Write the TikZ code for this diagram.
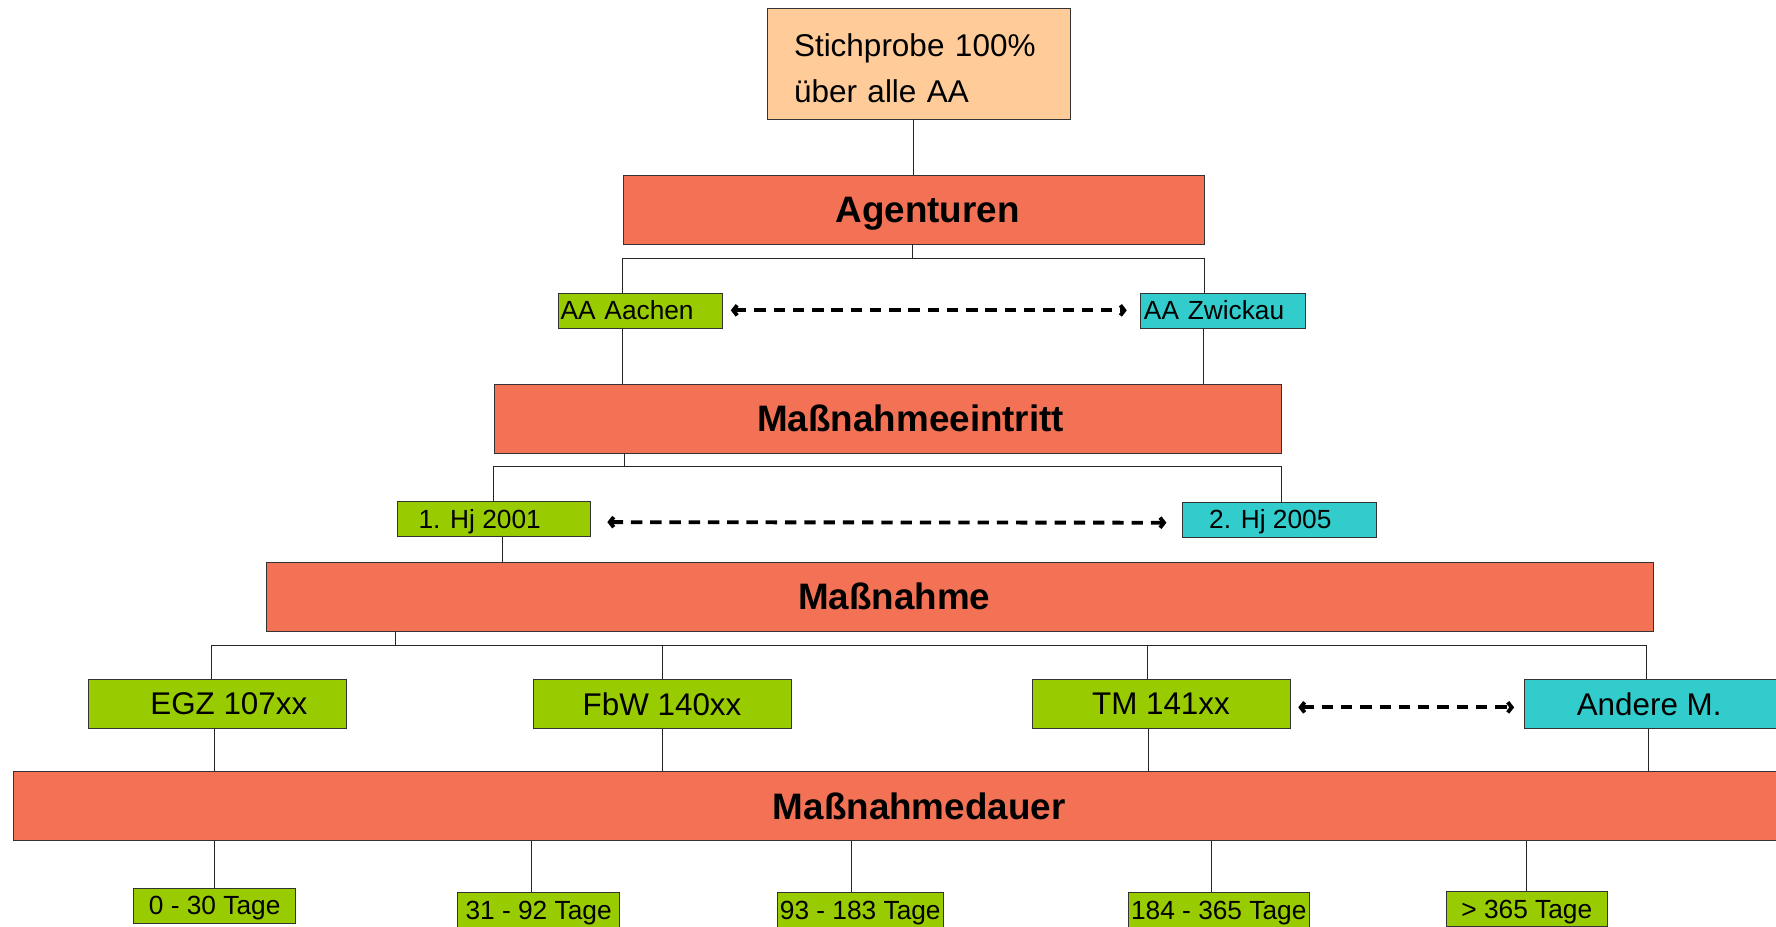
\documentclass[tikz,border=0pt]{standalone}
\usepackage{fontspec}
\setmainfont{Liberation Sans}
\usetikzlibrary{arrows.meta}
\definecolor{startbg}{RGB}{255, 204, 153}
\definecolor{levelbg}{RGB}{243, 114, 86}
\definecolor{optbg}{RGB}{153, 204, 0}
\definecolor{altbg}{RGB}{51, 204, 204}
\tikzset{
    startbox/.style={rectangle, draw=black!80, fill=startbg, align=left, font=\fontsize{27.8}{40}\selectfont},
    levelbox/.style={rectangle, draw=black!80, fill=levelbg, inner sep=0pt, text depth=0pt, minimum height=61pt, font=\fontsize{32.5}{39}\selectfont\bfseries},
    optbox/.style={rectangle, draw=black!80, fill=optbg, inner sep=0pt, text depth=0pt},
    altbox/.style={optbox, fill=altbg},
    smallbox/.style={minimum height=31pt, font=\fontsize{23.2}{28}\selectfont},
    bigbox/.style={minimum width=228pt, minimum height=43pt, font=\fontsize{27.7}{33}\selectfont},
    link/.style={draw=black!85, line width=0.9pt},
    compare/.style={{Straight Barb[length=3.5pt,width=9pt]}-{Straight Barb[length=3.5pt,width=9pt]}, line width=3.4pt, dash pattern=on 10pt off 7pt}
}

\begin{document}
\begin{tikzpicture}[x=1pt, y=-1pt]

    \useasboundingbox (0,0) rectangle (1568,818);
    \clip (0,0) rectangle (1568,818);

    \node (stich) [startbox, text width=220pt, inner xsep=24pt, text height=28.5pt, minimum height=98pt] at (811,56) {Stichprobe 100\%\\über alle AA};

    % Agenturen
    \node (agent)   [levelbox, minimum width=513pt] at (806.5,185) {\hspace*{25pt}Agenturen};
    \node (aachen)  [optbox, smallbox, text width=141pt, inner xsep=2pt, align=left] at (565.5,274) {AA Aachen};
    \node (zwickau) [altbox, smallbox, text width=139pt, inner xsep=3pt, align=left] at (1079.5,274) {AA Zwickau};

    % Massnahmeeintritt
    \node (eintritt) [levelbox, minimum width=695pt] at (783.5,369.5) {\hspace*{41pt}Maßnahmeeintritt};
    \node (hj1) [optbox, smallbox, minimum width=170pt] at (436,458) {1. Hj 2001\hspace*{25pt}};
    \node (hj2) [altbox, smallbox, minimum width=171pt] at (1129.5,458.5) {2. Hj 2005\hspace*{16pt}};

    % Massnahme
    \node (massn)  [levelbox, minimum width=1225pt] at (847.5,526.5) {Maßnahme\hspace*{116pt}};
    \node (egz)    [optbox, bigbox] at (192,621) {\hspace*{20pt}EGZ 107xx};
    \node (fbw)    [optbox, bigbox] at (584.5,621.5) {FbW 140xx};
    \node (tm)     [optbox, bigbox] at (1025,621.5) {TM 141xx};
    \node (andere) [altbox, bigbox] at (1460,621.5) {\hspace*{-8pt}Andere M.};

    % Massnahmedauer
    \node (dauer) [levelbox, minimum width=1599pt] at (811.5,711.5) {Maßnahmedauer};
    \node (t1) [optbox, smallbox, minimum width=143pt] at (189.5,799.5) {0 - 30 Tage};
    \node (t2) [optbox, smallbox, minimum width=143pt] at (475.5,803.5) {31 - 92 Tage};
    \node (t3) [optbox, smallbox, minimum width=147pt] at (759.5,803.5) {93 - 183 Tage};
    \node (t4) [optbox, smallbox, minimum width=160pt] at (1076,803.5) {184 - 365 Tage};
    \node (t5) [optbox, smallbox, minimum width=142pt] at (1348,802.5) {> 365 Tage};

    \coordinate (agbus) at (806,228);
    \coordinate (eibus) at (551,412);
    \coordinate (mbus)  at (349,570);

    % Lines
    \draw [link, line width=1.4pt] (agent.north) -- (agent.north |- stich.south);
    \draw [link] (agent.south -| agbus) -- (agbus);
    \draw [link] (aachen.north -| agent.west) |- (agbus) -| (zwickau.north -| agent.east);
    \draw [link] (aachen.south -| agent.west) -- (eintritt.north -| agent.west);
    \draw [link] ([xshift=-1pt]zwickau.south -| agent.east) -- ([xshift=-1pt]eintritt.north -| agent.east);

    \draw [link] (eintritt.south -| eibus) -- (eibus);
    \draw [link] (hj1.north) |- (eibus) -| (hj2.north -| eintritt.east);
    \draw [link] ([xshift=8pt]hj1.south) -- ([xshift=8pt]hj1.south |- massn.north);

    \draw [link] (massn.south -| mbus) -- (mbus);
    \draw [link] ([xshift=-5pt]egz.north) |- (mbus) -| ([xshift=-6pt]andere.north);
    \draw [link] (fbw.north) -- (fbw.north |- mbus);
    \draw [link] ([xshift=-12pt]tm.north) -- ([xshift=-12pt]tm.north |- mbus);

    \foreach \b/\s in {egz/-3, fbw/0, tm/-11, andere/-5}
        \draw [link] ([xshift=\s pt]\b.south) -- ([xshift=\s pt]\b.south |- dauer.north);
    \foreach \b/\s in {t1/0, t2/-6.5, t3/-7.5, t4/-6, t5/0}
        \draw [link] ([xshift=\s pt]\b.north) -- ([xshift=\s pt]\b.north |- dauer.south);

    % Comparisons
    \draw [compare] ([xshift=7pt]aachen.east) -- ([xshift=-12pt]zwickau.west);
    \draw [compare] ([xshift=15pt,yshift=-3pt]hj1.east) -- ([xshift=-14pt,yshift=-3pt]hj2.west);
    \draw [compare] ([xshift=7pt,yshift=-3pt]tm.east) -- ([xshift=-9pt,yshift=-3pt]andere.west);

\end{tikzpicture}
\end{document}
